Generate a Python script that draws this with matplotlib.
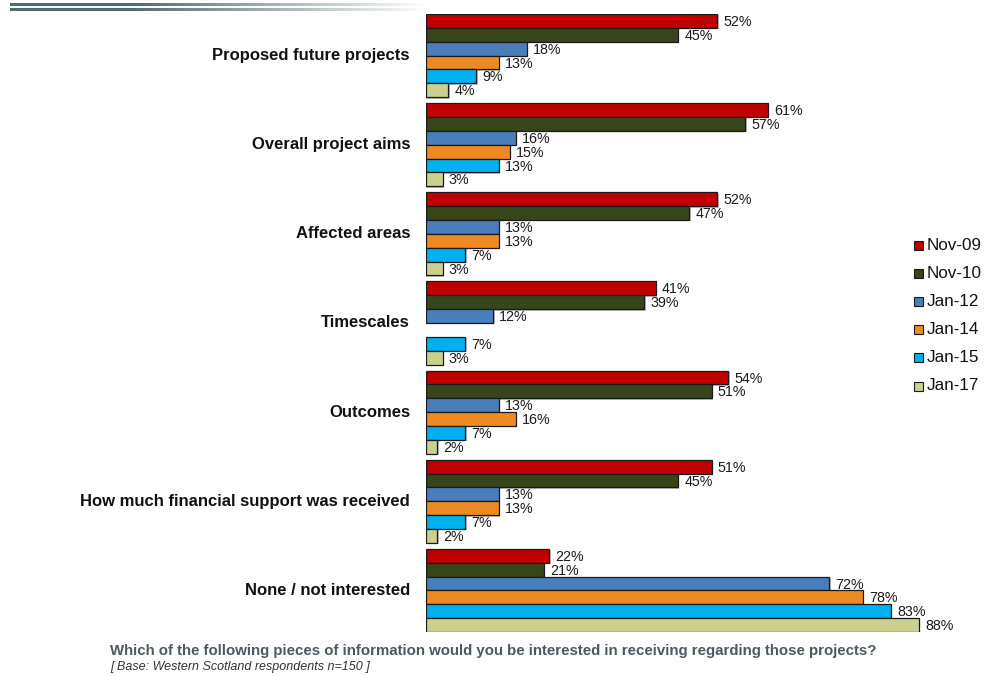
import matplotlib.pyplot as plt
import numpy as np
from matplotlib.colors import LinearSegmentedColormap

plt.rcParams['font.family'] = ['Liberation Sans', 'DejaVu Sans']

categories = [
    "Proposed future projects",
    "Overall project aims",
    "Affected areas",
    "Timescales",
    "Outcomes",
    "How much financial support was received",
    "None / not interested",
]
waves = ["Nov-09", "Nov-10", "Jan-12", "Jan-14", "Jan-15", "Jan-17"]
nov09 = [52, 61, 52, 41, 54, 51, 22]
nov10 = [45, 57, 47, 39, 51, 45, 21]
jan12 = [18, 16, 13, 12, 13, 13, 72]
jan14 = [13, 15, 13, None, 16, 13, 78]
jan15 = [9, 13, 7, 7, 7, 7, 83]
jan17 = [4, 3, 3, 3, 2, 2, 88]
series = [nov09, nov10, jan12, jan14, jan15, jan17]
colors = ["#C00000", "#36451A", "#4A7EBB", "#EE8A22", "#00B0F0", "#CBD08F"]

W, H = 986, 676
fig = plt.figure(figsize=(W / 100, H / 100), dpi=100)

# header gradient lines
deco = fig.add_axes([0, 0, 1, 1], zorder=-1)
deco.set_xlim(0, W)
deco.set_ylim(H, 0)
deco.axis("off")
xs = np.linspace(10, 430, 400)
grad = np.clip((430 - xs) / (430 - 130), 0, 1).reshape(1, -1)
cmap = LinearSegmentedColormap.from_list("g", ["#FFFFFF", "#506C6F"])
deco.imshow(grad, cmap=cmap, extent=(10, 430, 6.5, 3.8), aspect="auto", vmin=0, vmax=1)
deco.imshow(grad, cmap=cmap, extent=(10, 430, 11.5, 8.8), aspect="auto", vmin=0, vmax=1)

# main bars
px_per_pct = 5.6
gap = 0.43
n_units = len(categories) * len(waves) + (len(categories) - 1) * gap
top_px, bot_px = 14, 632
ax = fig.add_axes([426 / W, 1 - bot_px / H, 100 * px_per_pct / W, (bot_px - top_px) / H])
ax.set_xlim(0, 100)
ax.set_ylim(n_units, 0)
ax.axis("off")

for i, cat in enumerate(categories):
    base = i * (len(waves) + gap)
    for j, vals in enumerate(series):
        v = vals[i]
        if v is None:
            continue
        y = base + j + 0.5
        # faint shadow
        ax.barh(y + 0.1, v + 0.25, height=1.0, color="#BBBBBB", linewidth=0, zorder=1)
        ax.barh(y, v, height=1.0, color=colors[j], edgecolor="#1a1a1a", linewidth=0.9, zorder=2)
        ax.text(v + 1.1, y + 0.08, f"{v}%", va="center", ha="left", fontsize=10.3,
                color="#1a1a1a", zorder=3)
    fig.text(410 / W, 1 - (top_px + (base + 3) * (bot_px - top_px) / n_units) / H, cat,
             ha="right", va="center", fontsize=12, fontweight="bold", color="#111111")

# legend
for j, w in enumerate(waves):
    yy = 245 + j * 28.2
    deco.add_patch(plt.Rectangle((914, yy - 4.5), 9, 9, facecolor=colors[j],
                                 edgecolor="#1a1a1a", linewidth=0.8))
    deco.text(927, yy, w, va="center", ha="left", fontsize=12.3, color="#111111")

fig.text(110 / W, 1 - 651 / H,
         "Which of the following pieces of information would you be interested in receiving regarding those projects?",
         ha="left", va="center", fontsize=10.8, fontweight="bold", color="#4A5A5E")
fig.text(110 / W, 1 - 667 / H, "[ Base: Western Scotland respondents n=150 ]",
         ha="left", va="center", fontsize=9, style="italic", color="#333333")

fig.savefig("out.png", dpi=100)
